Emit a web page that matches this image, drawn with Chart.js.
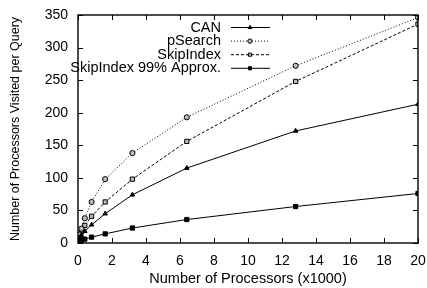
<!DOCTYPE html>
<html>
<head>
<meta charset="utf-8">
<script src="https://cdn.jsdelivr.net/npm/chart.js@4"></script>
<style>
  html, body { margin: 0; padding: 0; background: #fff; }
  #wrap { width: 427px; height: 288px; }
</style>
</head>
<body>
<div id="wrap"><canvas id="chart"></canvas></div>
<script>
// data
const processors = [0.05, 0.1, 0.2, 0.4, 0.8, 1.6, 3.2, 6.4, 12.8, 20];
const canVisited = [5, 8, 12, 18, 28, 45, 74, 115, 172, 213];
const psearchVisited = [8, 13, 22, 38, 63, 98, 138, 193, 272, 346];
const skipVisited = [6, 10, 17, 27, 41, 63, 98, 156, 248, 336];
const approxVisited = [2, 3, 4, 6, 9, 14, 23, 36, 56, 76];
const seriesNames = ['CAN', 'pSearch', 'SkipIndex', 'SkipIndex 99% Approx.'];
const xTicks = [0, 2, 4, 6, 8, 10, 12, 14, 16, 18, 20];
const yTicks = [0, 50, 100, 150, 200, 250, 300, 350];

const FONT = 'Liberation Sans, Arial, sans-serif';

function pts(ys) {
  return processors.map((x, i) => ({ x: x, y: ys[i] }));
}

// gnuplot style ticks (inward, mirrored) + border + legend
const gnuplotLook = {
  id: 'gnuplotLook',
  afterDatasetsDraw(chart) {
    const c = chart.ctx;
    const a = chart.chartArea;
    const xs = chart.scales.x, ys = chart.scales.y;
    c.save();
    c.strokeStyle = '#000';
    c.lineWidth = 1;
    c.beginPath();
    xTicks.forEach(v => {
      const px = Math.round(xs.getPixelForValue(v)) + 0.5;
      c.moveTo(px, a.bottom); c.lineTo(px, a.bottom - 5);
      c.moveTo(px, a.top); c.lineTo(px, a.top + 5);
    });
    yTicks.forEach(v => {
      const py = Math.round(ys.getPixelForValue(v)) + 0.5;
      c.moveTo(a.left, py); c.lineTo(a.left + 5, py);
      c.moveTo(a.right, py); c.lineTo(a.right - 5, py);
    });
    c.stroke();
    c.lineWidth = 1.4;
    c.strokeRect(a.left, a.top, a.right - a.left, a.bottom - a.top);

    // legend: text right aligned, then a line sample with marker
    c.font = '14.5px ' + FONT;
    c.textAlign = 'right';
    c.textBaseline = 'middle';
    chart.data.datasets.forEach((ds, i) => {
      const y = 27.5 + i * 13.6;
      c.fillStyle = '#000';
      c.fillText(ds.label, 221, y);
      c.strokeStyle = '#000';
      c.setLineDash(ds.borderDash || []);
      c.lineWidth = 1;
      c.beginPath();
      c.moveTo(231, y); c.lineTo(270, y);
      c.stroke();
      c.setLineDash([]);
      c.fillStyle = ds.pointBackgroundColor;
      Chart.helpers.drawPoint(c, {
        pointStyle: ds.pointStyle, radius: 2.2, rotation: 0,
        borderWidth: 1
      }, 250, y);
    });
    c.restore();
  }
};

new Chart(document.getElementById('chart'), {
  type: 'scatter',
  data: {
    datasets: [{
      label: seriesNames[0],
      data: pts(canVisited),
      showLine: true,
      borderColor: '#000',
      borderWidth: 1,
      pointStyle: 'triangle',
      pointRadius: 2.6,
      pointBackgroundColor: '#000',
      pointBorderColor: '#000',
      pointBorderWidth: 1
    }, {
      label: seriesNames[1],
      data: pts(psearchVisited),
      showLine: true,
      borderColor: '#000',
      borderWidth: 1,
      borderDash: [1, 2],
      pointStyle: 'circle',
      pointRadius: 2.6,
      pointBackgroundColor: '#bbb',
      pointBorderColor: '#000',
      pointBorderWidth: 1
    }, {
      label: seriesNames[2],
      data: pts(skipVisited),
      showLine: true,
      borderColor: '#000',
      borderWidth: 1,
      borderDash: [3, 2],
      pointStyle: 'rect',
      pointRadius: 3,
      pointBackgroundColor: '#bbb',
      pointBorderColor: '#000',
      pointBorderWidth: 1
    }, {
      label: seriesNames[3],
      data: pts(approxVisited),
      showLine: true,
      borderColor: '#000',
      borderWidth: 1,
      pointStyle: 'rect',
      pointRadius: 3,
      pointBackgroundColor: '#000',
      pointBorderColor: '#000',
      pointBorderWidth: 1
    }]
  },
  options: {
    responsive: true,
    maintainAspectRatio: false,
    animation: false,
    layout: { padding: { top: 15, right: 9, left: 0, bottom: 0 } },
    plugins: { legend: { display: false }, tooltip: { enabled: false } },
    scales: {
      x: {
        type: 'linear',
        min: 0, max: 20,
        afterBuildTicks: s => { s.ticks = xTicks.map(v => ({ value: v })); },
        afterFit: s => { s.height = 45; s.paddingLeft = 0; s.paddingRight = 0; },
        grid: { display: false, drawTicks: false },
        border: { display: false },
        ticks: { color: '#000', font: { family: FONT, size: 14 }, padding: 10, maxRotation: 0 },
        title: { display: true, text: 'Number of Processors (x1000)', color: '#000',
                 font: { family: FONT, size: 14.5 }, padding: { top: 6, bottom: 0 } }
      },
      y: {
        min: 0, max: 350,
        afterBuildTicks: s => { s.ticks = yTicks.map(v => ({ value: v })); },
        afterFit: s => { s.width = 78; s.paddingTop = 0; s.paddingBottom = 0; },
        grid: { display: false, drawTicks: false },
        border: { display: false },
        ticks: { color: '#000', font: { family: FONT, size: 14 }, padding: 10 },
        title: { display: true, text: 'Number of Processors Visited per Query', color: '#000',
                 font: { family: FONT, size: 12.5 }, padding: { top: 8, bottom: 2 } }
      }
    }
  },
  plugins: [gnuplotLook]
});
</script>
</body>
</html>
